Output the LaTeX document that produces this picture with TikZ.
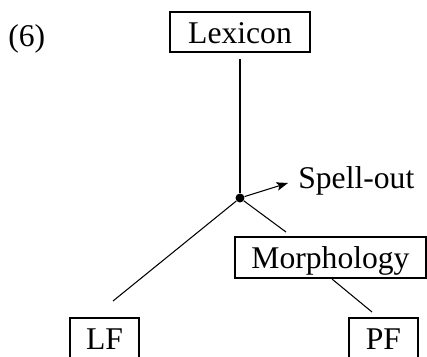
\documentclass[tikz,border=0pt]{standalone}
\usepackage{fontspec}
\setmainfont{Liberation Serif}
\usetikzlibrary{arrows.meta}
\usetikzlibrary{positioning}
\usetikzlibrary{calc}

\begin{document}
\begin{tikzpicture}[x=0.02cm,y=-0.02cm,>={Stealth[length=0.23cm,width=0.17cm,inset=0.05cm]}]
	\tikzset{module/.style = {shape=rectangle, draw, line width=0.9pt, inner sep=0pt, text height=13.5pt, text depth=0.9pt, font=\fontsize{18}{20}\selectfont}}
	\tikzset{link/.style = {line width=0.6pt}}
	\tikzset{split/.style = {shape=circle, fill, inner sep=0pt, minimum size=0.18cm}}
	\useasboundingbox (0,0) rectangle (427,356);
	\node[anchor=base west, inner sep=0pt, font=\fontsize{18}{20}\selectfont] (NUM) at (8,46) {(6)};
	\node[module, minimum width=2.8cm, minimum height=0.8cm] (LEX) at (240,32) {Lexicon};
	\node[module, minimum width=3.82cm, minimum height=0.82cm] (MORPH) at (330.5,257.5) {Morphology};
	\node[module, minimum width=1.38cm, minimum height=0.8cm] (LF) at (104.5,338) {LF};
	\node[module, minimum width=1.38cm, minimum height=0.8cm] (PF) at (383.5,338) {PF};
	\node[split] (SPLIT) at (240,198) {};
	\node[anchor=base west, inner sep=0pt, font=\fontsize{18}{20}\selectfont] (SPELL) at (298,188) {Spell-out};
	% free line ends
	\coordinate (LEXEND) at (240,59);
	\coordinate (SPELLTIP) at (288,183);
	\coordinate (LFEND) at (113,301);
	\coordinate (MORPHEND) at (286,232);
	\coordinate (MORPHOUT) at (332,279);
	\coordinate (PFEND) at (372,312);
	\draw[link] (LEXEND) -- (SPLIT);
	\draw[link,->] (SPLIT) -- (SPELLTIP);
	\draw[link] (SPLIT) -- (LFEND);
	\draw[link] (SPLIT) -- (MORPHEND);
	\draw[link] (MORPHOUT) -- (PFEND);
\end{tikzpicture}
\end{document}
